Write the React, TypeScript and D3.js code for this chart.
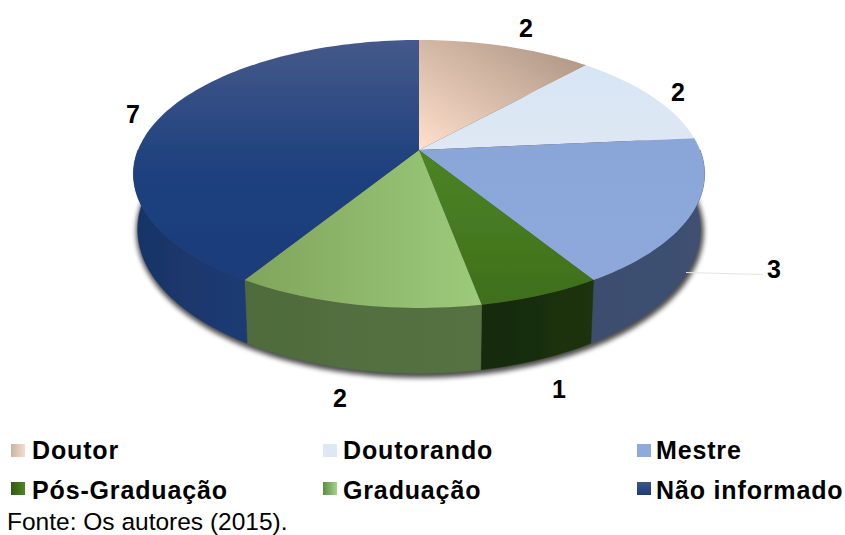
import React from "react";
import * as d3 from "d3";

const categories = ["Doutor", "Doutorando", "Mestre", "Pós-Graduação", "Graduação", "Não informado"];
const values = [2, 2, 3, 1, 2, 7];
const labelX = [526, 678, 774, 559, 340, 133];
const labelY = [37, 101, 278, 398, 407, 123];
const source = "Fonte: Os autores (2015).";

const topStops = [
  ["#ffe0cc", "#a8917f"],
  ["#d6e5f5", "#dfe8f3"],
  ["#8aa6d8", "#8ea8dc"],
  ["#4c8424", "#3f6f1c"],
  ["#80a45c", "#9ccb7b"],
  ["#45598a", "#20427f", "#1b3c7a"],
];
const sideStops = [
  ["#8a7868", "#8a7868"],
  ["#9aa6b4", "#9aa6b4"],
  ["#3c4e6e", "#3f5072"],
  ["#16290a", "#1c3409"],
  ["#4f6b3c", "#567243"],
  ["#183465", "#1e3b74"],
];
const legendStops = [
  ["#c9b5a5", "#f5dccb"],
  ["#dde8f4", "#dde8f4"],
  ["#8eaadb", "#8eaadb"],
  ["#2f5a14", "#4f8526"],
  ["#5f8a45", "#a4d488"],
  ["#3c5688", "#1c3a78"],
];

const apexX = 419;
const apexY = 150;
const halfW = 281;
const halfD = 129.7;
const persp = -0.179;
const depth = 53.6;
const baseShrink = 0.985;

const project = (a: number) => {
  const X = Math.sin(a);
  const Y = -Math.cos(a);
  const w = 1 + persp * Y;
  return { x: (halfW * X) / w, y: (halfD * Y) / w, d: depth / w };
};
const topPt = (a: number): [number, number] => {
  const p = project(a);
  return [apexX + p.x, apexY + p.y];
};
const basePt = (a: number): [number, number] => {
  const p = project(a);
  return [apexX + p.x * baseShrink, apexY + p.y + p.d];
};
const steps = (a0: number, a1: number) => {
  const n = Math.max(2, Math.ceil((a1 - a0) * 40));
  return d3.range(n + 1).map((i) => a0 + ((a1 - a0) * i) / n);
};
const line = d3.line();

const arcs = d3.pie<number>().sort(null)(values);

const topPath = (a0: number, a1: number) =>
  line([[apexX, apexY], ...steps(a0, a1).map(topPt)]) + "Z";

const sidePath = (a0: number, a1: number) => {
  const lo = Math.max(a0, Math.PI / 2);
  const hi = Math.min(a1, (3 * Math.PI) / 2);
  if (hi <= lo) return null;
  const s = steps(lo, hi);
  return line([...s.map(topPt), ...s.slice().reverse().map(basePt)]) + "Z";
};

const outline = () => line(steps(0, Math.PI * 2).map(basePt)) + "Z";

const swatchCols = [11, 323, 637];
const swatchRows = [444, 482];
const textCols = [32, 343, 656];
const textRows = [459, 499];

export default function App() {
  return (
    <svg width={845} height={535} style={{ position: "absolute", left: 0, top: 0, background: "#fff" }}>
      <defs>
        <filter id="blur" x="-20%" y="-20%" width="140%" height="140%">
          <feGaussianBlur stdDeviation="2.5" />
        </filter>
        <filter id="soft" x="-5%" y="-5%" width="110%" height="110%">
          <feGaussianBlur stdDeviation="0.5" />
        </filter>
        {topStops.map((c, i) => (
          <linearGradient
            key={i}
            id={`top${i}`}
            x1={0}
            y1={i === 0 ? 1 : 0}
            x2={i === 0 || i === 4 ? 1 : 0}
            y2={i === 0 || i === 4 ? 0 : 1}
          >
            {c.map((s, j) => (
              <stop key={j} offset={j / (c.length - 1)} stopColor={s} />
            ))}
          </linearGradient>
        ))}
        {sideStops.map((c, i) => (
          <linearGradient key={i} id={`side${i}`} x1="0" y1="0" x2="1" y2="0">
            <stop offset="0" stopColor={c[0]} />
            <stop offset="1" stopColor={c[1]} />
          </linearGradient>
        ))}
        {legendStops.map((c, i) => (
          <linearGradient key={i} id={`leg${i}`} x1={0} y1={0} x2={i === 5 ? 0 : 1} y2={i === 5 ? 1 : 0}>
            <stop offset="0" stopColor={c[0]} />
            <stop offset="1" stopColor={c[1]} />
          </linearGradient>
        ))}
      </defs>

      <path
        d={outline()}
        transform="translate(1,2)"
        fill="#000"
        stroke="#000"
        strokeWidth={5}
        opacity={0.7}
        filter="url(#blur)"
      />

      <g filter="url(#soft)">
        {arcs.map((a, i) => {
          const d = sidePath(a.startAngle, a.endAngle);
          return d ? <path key={i} d={d} fill={`url(#side${i})`} stroke={`url(#side${i})`} strokeWidth={0.5} /> : null;
        })}
        {arcs.map((a, i) => (
          <path key={i} d={topPath(a.startAngle, a.endAngle)} fill={`url(#top${i})`} />
        ))}
      </g>

      <line x1={686} y1={272.5} x2={763} y2={274.5} stroke="#e4e4e4" strokeWidth={1} />

      {values.map((v, i) => (
        <text
          key={i}
          x={labelX[i]}
          y={labelY[i]}
          textAnchor="middle"
          fontFamily="Liberation Sans"
          fontWeight="bold"
          fontSize={25}
          fill="#000"
        >
          {v}
        </text>
      ))}

      {categories.map((c, i) => (
        <g key={c}>
          <rect
            x={swatchCols[i % 3]}
            y={swatchRows[Math.floor(i / 3)]}
            width={14}
            height={13}
            fill={`url(#leg${i})`}
          />
          <text
            x={textCols[i % 3]}
            y={textRows[Math.floor(i / 3)]}
            fontFamily="Liberation Sans"
            fontWeight="bold"
            fontSize={25}
            letterSpacing={0.85}
            fill="#000"
          >
            {c}
          </text>
        </g>
      ))}
      <text x={7} y={530} fontFamily="Liberation Sans" fontSize={24.5} fill="#000">
        {source}
      </text>
    </svg>
  );
}
